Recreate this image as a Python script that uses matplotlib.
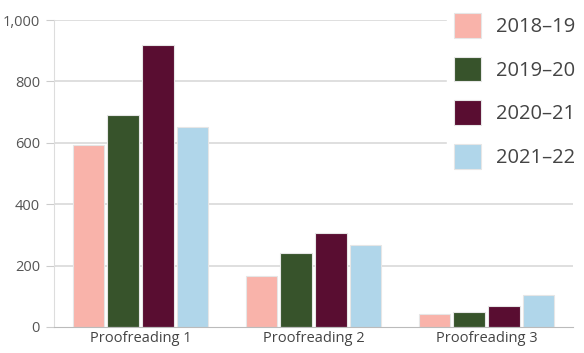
import matplotlib.pyplot as plt
import matplotlib.ticker as ticker
from matplotlib.patches import Patch
import numpy as np

plt.rcParams['font.family'] = ['Open Sans', 'DejaVu Sans']

# Proofreading counts per academic year
categories = ['Proofreading 1', 'Proofreading 2', 'Proofreading 3']
years = ['2018\u201319', '2019\u201320', '2020\u201321', '2021\u201322']
values = {
    '2018\u201319': [593, 166, 42],
    '2019\u201320': [690, 241, 49],
    '2020\u201321': [918, 306, 68],
    '2021\u201322': [651, 267, 104],
}
colors = ['#F9B3AA', '#37532B', '#590D31', '#B0D6EA']

fig = plt.figure(figsize=(5.84, 3.53), dpi=100)
ax = fig.add_axes([54/584, 26/353, 519/584, 307/353])

x = np.arange(len(categories))
step = 0.202
width = 0.18
for i, yr in enumerate(years):
    ax.bar(x + (i - 1.5) * step, values[yr], width, color=colors[i],
           edgecolor='#e6e6e6', linewidth=0.8, zorder=3)

# horizontal gridlines
for v in [200, 400, 600, 800, 1000]:
    ax.axhline(v, color='#d9d9d9', linewidth=1.2, zorder=1)

ax.set_xlim(-0.5, 2.5)
ax.set_ylim(0, 1000)
ax.set_xticks(x)
ax.set_xticklabels(categories)
ax.set_yticks([0, 200, 400, 600, 800, 1000])
ax.yaxis.set_major_formatter(ticker.FuncFormatter(lambda v, p: '{:,.0f}'.format(v)))
ax.tick_params(axis='y', length=6, color='#cccccc', labelsize=10.5, labelcolor='#555555', pad=4)
ax.tick_params(axis='x', length=0, labelsize=10.5, labelcolor='#444444', pad=3)

ax.spines['top'].set_visible(False)
ax.spines['right'].set_visible(False)
ax.spines['left'].set_color('#dddddd')
ax.spines['bottom'].set_color('#bbbbbb')
ax.spines['bottom'].set_zorder(4)

handles = [Patch(facecolor=c, edgecolor='#e6e6e6', linewidth=0.8) for c in colors]
leg = ax.legend(handles, years, loc='upper right', bbox_to_anchor=(1.035, 1.075),
                fontsize=14.5, frameon=True, framealpha=1, facecolor='white',
                edgecolor='white', handlelength=1.35, handleheight=1.5,
                labelspacing=0.95, handletextpad=0.75, borderpad=0.3)
for t in leg.get_texts():
    t.set_color('#444444')
leg.set_zorder(5)

plt.savefig('out.png', dpi=100)
plt.close(fig)
